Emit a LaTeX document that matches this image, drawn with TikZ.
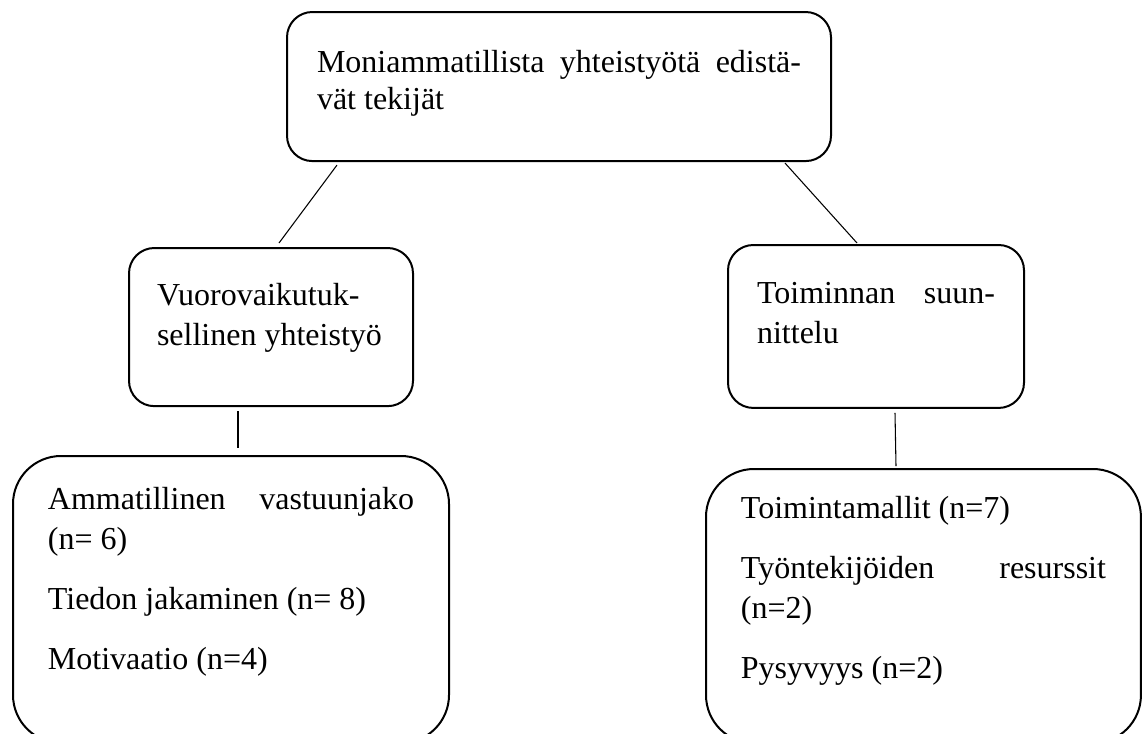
\documentclass[tikz,border=0pt]{standalone}
\usepackage{fontspec}
\setmainfont{Liberation Serif}
\usetikzlibrary{calc}

\begin{document}
\begin{tikzpicture}[x=0.375pt,y=-0.375pt]
	\tikzstyle{viiva}=[-,line width=0.4pt]
	\tikzset{laatikko/.style={draw,line width=0.75pt,rounded corners=9.5pt,anchor=north west,align=justify,inner ysep=0pt,font=\fontsize{12pt}{15pt}\selectfont},iso/.style={laatikko,rounded corners=18pt}}
	\useasboundingbox (0,0) rectangle (1142,733);
	\clip (0,0) rectangle (1142,733);
	\node[laatikko,font=\fontsize{12pt}{14pt}\selectfont,inner xsep=11.25pt,text width=181.5pt,text height=22.5pt,text depth=33.4pt] (a0) at (286,11) {Moniammatillista yhteistyötä edistä-\linebreak vät tekijät};
	\node[laatikko,inner xsep=10.5pt,text width=85.5pt,text height=21.4pt,text depth=37.9pt] (a1) at (128,247) {Vuorovaikutuk-\\sellinen yhteistyö};
	\node[laatikko,inner xsep=10.9pt,text width=89.2pt,text height=22.1pt,text depth=39pt] (a2) at (727,244) {Toiminnan suun-\linebreak nittelu};
	\node[iso,inner xsep=13.1pt,text width=137.3pt,text height=19.9pt,text depth=87.7pt] (b1) at (12,455) {Ammatillinen vastuunjako\linebreak (n= 6)\\[7.5pt]Tiedon jakaminen (n= 8)\\[7.5pt]Motivaatio (n=4)};
	\node[iso,inner xsep=13.1pt,text width=136.9pt,text height=18.4pt,text depth=84.4pt] (b2) at (705,468) {Toimintamallit (n=7)\\[7.5pt]Työntekijöiden resurssit\linebreak (n=2)\\[7.5pt]Pysyvyys (n=2)};
	\draw[viiva] ($(a0.south west)+(51,3)$) -- ($(a1.north west)+(151,-4)$);
	\draw[viiva] ($(a0.south east)+(-47,1)$) -- ($(a2.north west)+(130,-1)$);
	\draw[viiva] ($(a1.south west)+(110,4)$) -- ($(b1.north west)+(226,-7)$);
	\draw[viiva] ($(a2.south west)+(168,4)$) -- ($(b2.north west)+(191,-2)$);
\end{tikzpicture}
\end{document}
